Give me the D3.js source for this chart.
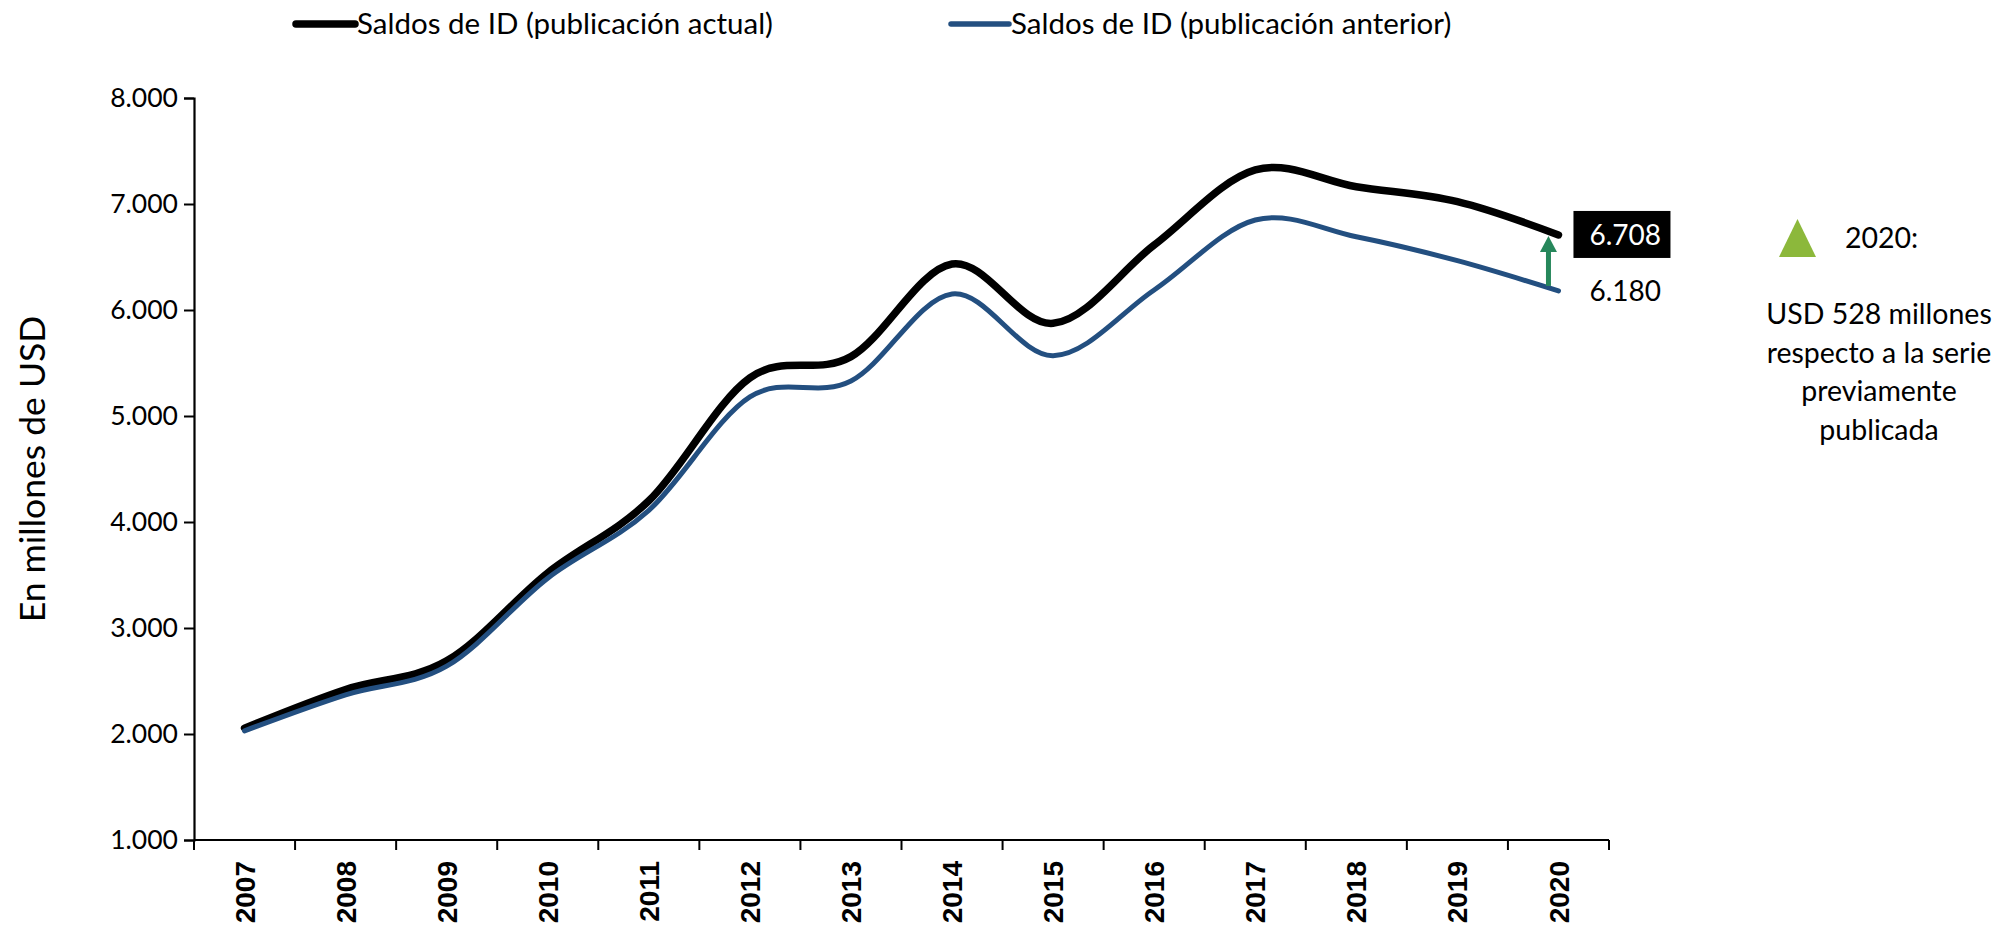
<!DOCTYPE html>
<html>
<head>
<meta charset="utf-8">
<script src="https://cdn.jsdelivr.net/npm/d3@7"></script>
<style>
  html, body { margin: 0; padding: 0; background: #fff; }
  svg { display: block; font-family: Lato, "Open Sans", sans-serif; }
</style>
</head>
<body>
<svg id="chart" width="2002" height="927"></svg>
<script>
const years = ["2007","2008","2009","2010","2011","2012","2013","2014","2015","2016","2017","2018","2019","2020"];
const actual   = [2055, 2420, 2690, 3520, 4200, 5360, 5560, 6434, 5874, 6613, 7321, 7163, 7022, 6708];
const previous = [2030, 2370, 2640, 3470, 4110, 5180, 5330, 6151, 5569, 6189, 6849, 6691, 6465, 6180];
const yTicks = [1000, 2000, 3000, 4000, 5000, 6000, 7000, 8000];
const seriesNames = ["Saldos de ID (publicación actual)", "Saldos de ID (publicación anterior)"];
const yTitle = "En millones de USD";
const noteLines = ["USD 528 millones", "respecto a la serie", "previamente", "publicada"];
const noteHead = "2020:";

(function () {
const colActual = "#000000", colPrev = "#234f80", colArrow = "#26875b", colTri = "#8cb83b";

const svg = d3.select("#chart");
const pL = 194, pR = 1609, pT = 98, pB = 840;

const x = d3.scaleBand().domain(years).range([pL, pR]).padding(0);
const cx = d => x(d) + x.bandwidth() / 2;
const y = d3.scaleLinear().domain([1000, 8000]).range([pB, pT]);

const loc = d3.formatLocale({decimal: ",", thousands: ".", grouping: [3], currency: ["", ""]});
const fmt = loc.format(",.0f");

// Y axis
const gy = svg.append("g").attr("transform", `translate(${pL},0)`)
  .call(d3.axisLeft(y).tickValues(yTicks).tickFormat(fmt).tickSize(10).tickPadding(6));
gy.select(".domain").attr("stroke", "#000").attr("stroke-width", 2.2);
gy.selectAll(".tick line").attr("stroke", "#000").attr("stroke-width", 2);
gy.selectAll(".tick text").attr("font-size", 26.5).attr("fill", "#000")
  .attr("font-family", "Lato, sans-serif");

// X axis line and boundary ticks
svg.append("line").attr("x1", pL).attr("x2", pR).attr("y1", pB).attr("y2", pB)
  .attr("stroke", "#000").attr("stroke-width", 2.2);
const bounds = years.map(d => x(d)).concat([x(years[years.length - 1]) + x.bandwidth()]);
svg.append("g").selectAll("line").data(bounds).join("line")
  .attr("x1", d => d).attr("x2", d => d).attr("y1", pB).attr("y2", pB + 10)
  .attr("stroke", "#000").attr("stroke-width", 2);
svg.append("g").selectAll("text").data(years).join("text")
  .attr("transform", d => `translate(${cx(d)},${pB + 21}) rotate(-90)`)
  .attr("text-anchor", "end").attr("dy", "0.36em")
  .attr("font-family", "'Liberation Sans', Arial, sans-serif").attr("font-weight", "bold")
  .attr("font-size", 28).attr("fill", "#000").text(d => d);

// Y title
svg.append("text")
  .attr("transform", `translate(32,${(pT + pB) / 2}) rotate(-90)`)
  .attr("text-anchor", "middle").attr("dy", "0.36em")
  .attr("font-size", 35.5).attr("fill", "#000").text(yTitle);

// Lines
const line = d3.line().x((d, i) => cx(years[i])).y(d => y(d)).curve(d3.curveCatmullRom.alpha(0));
svg.append("path").datum(actual).attr("d", line)
  .attr("fill", "none").attr("stroke", colActual).attr("stroke-width", 7.5)
  .attr("stroke-linecap", "round").attr("stroke-linejoin", "round");
svg.append("path").datum(previous).attr("d", line)
  .attr("fill", "none").attr("stroke", colPrev).attr("stroke-width", 5)
  .attr("stroke-linecap", "round").attr("stroke-linejoin", "round");

// Legend
const legend = [
  {name: seriesNames[0], col: colActual, w: 7.5, x0: 296, x1: 355},
  {name: seriesNames[1], col: colPrev, w: 5.5, x0: 951, x1: 1009}
];
const lg = svg.append("g").selectAll("g").data(legend).join("g");
lg.append("line").attr("x1", d => d.x0).attr("x2", d => d.x1).attr("y1", 24).attr("y2", 24)
  .attr("stroke", d => d.col).attr("stroke-width", d => d.w).attr("stroke-linecap", "round");
lg.append("text").attr("x", d => d.x1 + 2).attr("y", 34).attr("font-size", 29.5)
  .attr("fill", "#000").text(d => d.name);

// End labels
const last = years.length - 1;
const xl = cx(years[last]);
const yA = y(actual[last]), yP = y(previous[last]);
svg.append("rect").attr("x", xl + 15).attr("y", yA - 24).attr("width", 97).attr("height", 47).attr("fill", "#000");
svg.append("text").attr("x", xl + 31).attr("y", yA).attr("dy", "0.36em")
  .attr("font-size", 28).attr("fill", "#fff").text(fmt(actual[last]));
svg.append("text").attr("x", xl + 31).attr("y", yP).attr("dy", "0.36em")
  .attr("font-size", 28).attr("fill", "#000").text(fmt(previous[last]));

// Green arrow
const ax = xl - 10;
svg.append("line").attr("x1", ax).attr("x2", ax).attr("y1", yP - 5).attr("y2", yA + 14)
  .attr("stroke", colArrow).attr("stroke-width", 5);
svg.append("path")
  .attr("d", `M${ax},${yA + 1} L${ax + 8.5},${yA + 17} L${ax - 8.5},${yA + 17} Z`)
  .attr("fill", colArrow);

// Right-side note
const tx = 1797.5, tyTop = 219, tyBot = 257;
svg.append("path")
  .attr("d", `M${tx},${tyTop} L${tx + 18.5},${tyBot} L${tx - 18.5},${tyBot} Z`)
  .attr("fill", colTri);
svg.append("text").attr("x", 1845).attr("y", 248).attr("font-size", 28.5).attr("fill", "#000").text(noteHead);
svg.append("g").selectAll("text").data(noteLines).join("text")
  .attr("x", 1879).attr("y", (d, i) => 324 + i * 38.5)
  .attr("text-anchor", "middle").attr("font-size", 28.5).attr("fill", "#000").text(d => d);
})();
</script>
</body>
</html>
